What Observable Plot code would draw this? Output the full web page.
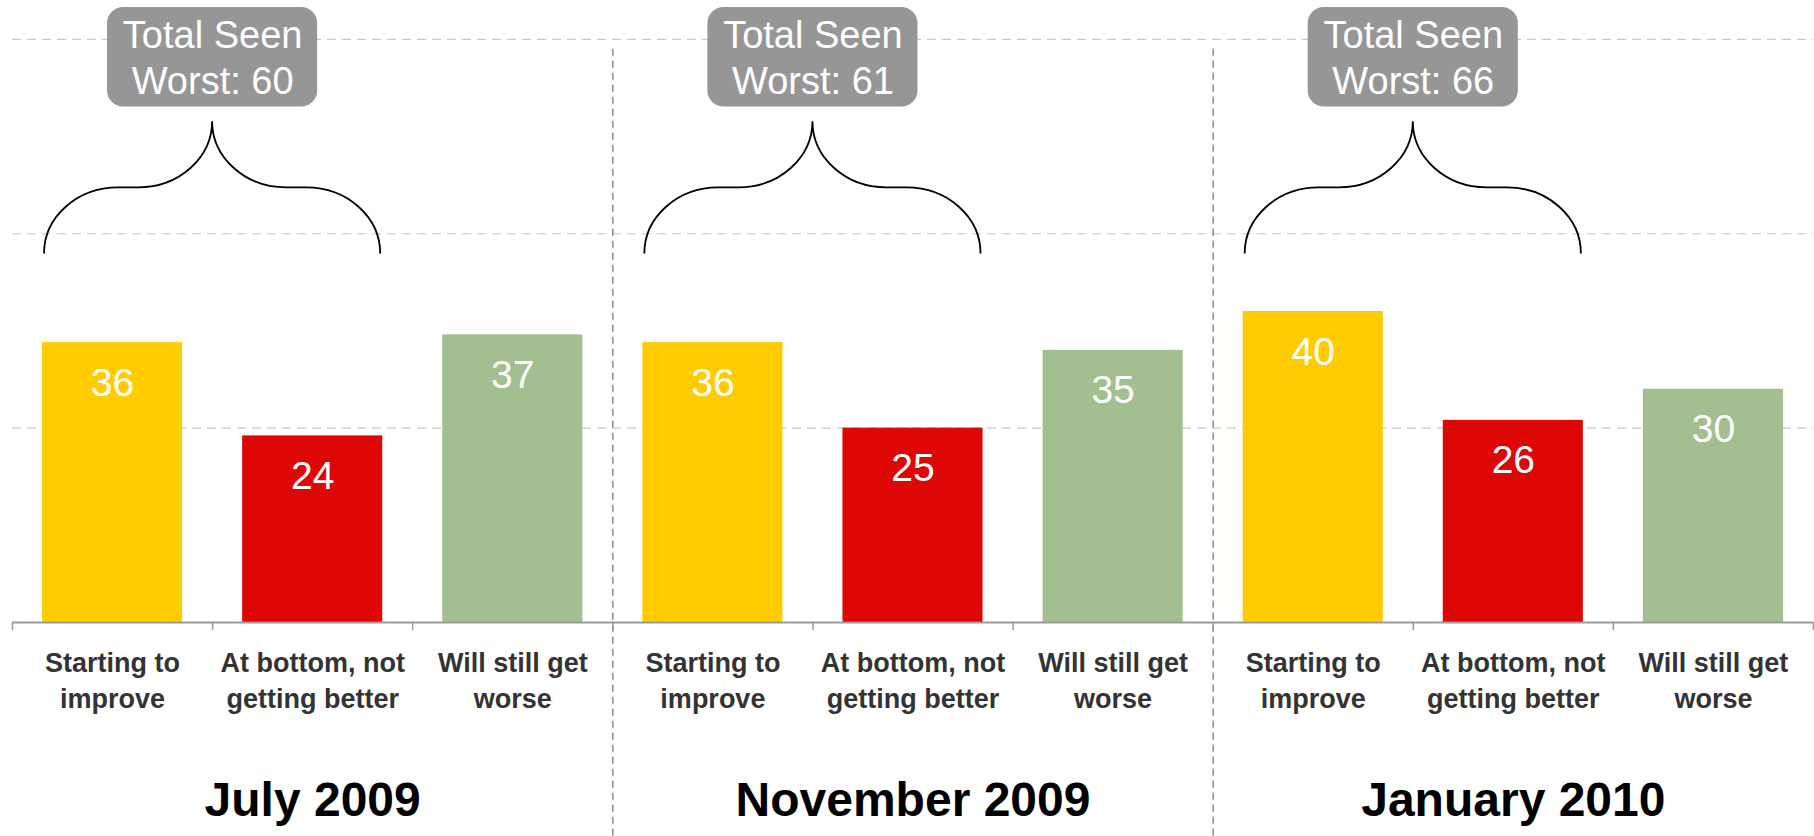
<!DOCTYPE html>
<html>
<head>
<meta charset="utf-8">
<script src="https://cdn.jsdelivr.net/npm/d3@7"></script>
<script src="https://cdn.jsdelivr.net/npm/@observablehq/plot@0.6"></script>
<style>
  html, body { margin: 0; padding: 0; background: #ffffff; }
  #chart { width: 1814px; height: 836px; }
</style>
</head>
<body>
<div id="chart"></div>
<script>
// ---- data ----
const groups = ["July 2009", "November 2009", "January 2010"];
const categories = ["Starting to\nimprove", "At bottom, not\ngetting better", "Will still get\nworse"];
const startingToImprove = [36, 36, 40];
const atBottomNotBetter = [24, 25, 26];
const willStillGetWorse = [37, 35, 30];
const totalSeenWorst = [60, 61, 66];
const categoryColors = ["#FFCC00", "#DD0806", "#A3BE8F"];
const gridTicks = [25, 50, 75];

// ---- derived tables ----
const seriesByCategory = [startingToImprove, atBottomNotBetter, willStillGetWorse];
const table = [];
groups.forEach((g, gi) => {
  categories.forEach((c, ci) => {
    table.push({group: g, category: c, value: seriesByCategory[ci][gi], pos: gi * categories.length + ci, color: categoryColors[ci]});
  });
});
const nBands = groups.length * categories.length;
const annotations = groups.map((g, gi) => ({
  group: g,
  total: totalSeenWorst[gi],
  label: `Total Seen\nWorst: ${totalSeenWorst[gi]}`,
  center: gi * categories.length + 1,
  mid: gi * categories.length + categories.length / 2
}));
const separators = d3.range(1, groups.length).map(i => i * categories.length);

// layout constants (data units of y)
const braceBottom = 47.4, braceMid = 55.9, braceTop = 64.4;
const boxBottom = 66.3, boxTop = 79.1, boxTextY = 72.8;
const braceHalf = 0.84, boxHalf = 0.525, barPad = 0.15;

const braceMark = (index, scales) => {
  const {x, y} = scales;
  const g = d3.create("svg:g");
  for (const a of annotations) {
    const xl = x(a.center - braceHalf), xr = x(a.center + braceHalf), xc = x(a.center);
    const yb = y(braceBottom), ym = y(braceMid), yt = y(braceTop);
    const rx = (xc - xl) * 0.44, ry = yb - ym;
    g.append("path")
      .attr("d", `M${xl},${yb}A${rx},${ry} 0 0 1 ${xl + rx},${ym}H${xc - rx}A${rx},${ry} 0 0 0 ${xc},${yt}A${rx},${ry} 0 0 0 ${xc + rx},${ym}H${xr - rx}A${rx},${ry} 0 0 1 ${xr},${yb}`)
      .attr("fill", "none")
      .attr("stroke", "#000")
      .attr("stroke-width", 1.8);
  }
  return g.node();
};

const plot = Plot.plot({
  width: 1814,
  height: 836,
  marginTop: 0,
  marginLeft: 12,
  marginRight: 1,
  marginBottom: 214,
  style: {fontFamily: "'Liberation Sans', Arial, sans-serif", background: "#ffffff", overflow: "visible"},
  x: {type: "linear", domain: [0, nBands], axis: null},
  y: {domain: [0, 80], axis: null},
  marks: [
    Plot.ruleY(gridTicks, {stroke: "#c8c8c8", strokeWidth: 1.2, strokeDasharray: "9,6"}),
    Plot.ruleX(separators, {y1: -27.5, y2: 73.8, stroke: "#888888", strokeWidth: 1.5, strokeDasharray: "7,5"}),
    Plot.rectY(table, {x1: d => d.pos + barPad, x2: d => d.pos + 1 - barPad, y: "value", fill: d => d.color}),
    Plot.text(table, {x: d => d.pos + 0.5, y: "value", text: d => String(d.value), fill: "#ffffff", fontSize: 39, lineAnchor: "bottom", dy: 53}),
    Plot.ruleY([0], {stroke: "#9a9a9a", strokeWidth: 2}),
    Plot.axisX({ticks: d3.range(nBands + 1), tickSize: 8, tickFormat: () => "", stroke: "#9a9a9a", strokeWidth: 1.5}),
    Plot.text(table, {x: d => d.pos + 0.5, y: 0, text: "category", fill: "#333333", fontWeight: "bold", fontSize: 27, lineAnchor: "top", lineHeight: 1.3, dy: 25}),
    Plot.text(annotations, {x: "mid", y: 0, text: "group", fill: "#000000", fontWeight: "bold", fontSize: 48, lineAnchor: "bottom", dy: 193}),
    braceMark,
    Plot.rect(annotations, {x1: d => d.center - boxHalf, x2: d => d.center + boxHalf, y1: boxBottom, y2: boxTop, fill: "#969696", rx: 16}),
    Plot.text(annotations, {x: "center", y: boxTextY, text: "label", fill: "#ffffff", fontSize: 38, lineHeight: 1.2, lineAnchor: "middle"})
  ]
});
document.getElementById("chart").appendChild(plot);
</script>
</body>
</html>
